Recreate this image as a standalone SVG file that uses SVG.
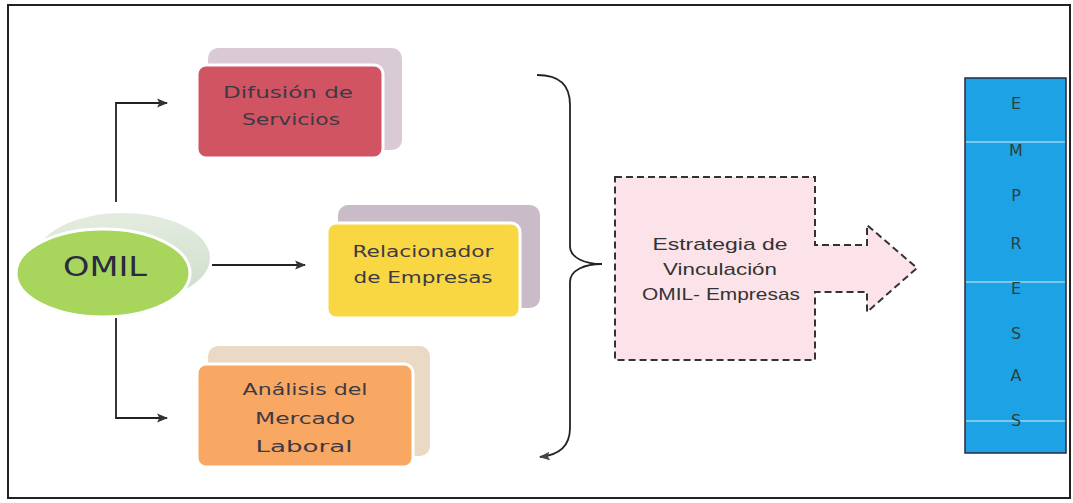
<svg xmlns="http://www.w3.org/2000/svg" width="1073" height="503" viewBox="0 0 1073 503">
  <defs>
    <style>
      .lbl { font-family: "DejaVu Sans", Verdana, sans-serif; font-size: 16px; fill: #3c3a46; text-anchor: middle; }
      .arial { font-family: "Liberation Sans", Arial, sans-serif; font-size: 17px; fill: #333333; text-anchor: middle; }
      .let { font-family: "DejaVu Sans", Verdana, sans-serif; font-size: 16px; fill: #2f3f3a; text-anchor: middle; }
      .conn { fill: none; stroke: #222222; stroke-width: 1.8; }
    </style>
    <marker id="ah" viewBox="0 0 10 10" refX="9" refY="5" markerWidth="11" markerHeight="11" orient="auto" markerUnits="userSpaceOnUse">
      <path d="M0,1 L10,5 L0,9 L2,5 Z" fill="#333"/>
    </marker>
    <marker id="ahL" viewBox="0 0 10 10" refX="9" refY="5" markerWidth="11" markerHeight="11" orient="auto" markerUnits="userSpaceOnUse">
      <path d="M0,1 L10,5 L0,9 L2,5 Z" fill="#444"/>
    </marker>
    <linearGradient id="shg" x1="0" y1="0" x2="0" y2="1">
      <stop offset="0" stop-color="#e4ece0"/>
      <stop offset="1" stop-color="#ccdcc8"/>
    </linearGradient>
  </defs>

  <rect x="8" y="5" width="1062" height="493" fill="#ffffff" stroke="#222" stroke-width="2"/>

  <g id="connectors">
    <path class="conn" d="M116,202 L116,103 L167,103" marker-end="url(#ah)"/>
    <path class="conn" d="M116,318 L116,418 L167,418" marker-end="url(#ah)"/>
    <path class="conn" d="M212,265 L305,265" marker-end="url(#ah)"/>
    <path class="conn" d="M537,75 C560,75 570,85 570,105 L570,246 C570,258 585,264 602,264 C585,264 570,270 570,282 L570,428 C570,446 560,455 540,457" marker-end="url(#ahL)"/>
  </g>

  <g id="omil">
    <ellipse cx="123" cy="258" rx="87" ry="45" fill="url(#shg)"/>
    <ellipse cx="103" cy="273" rx="87" ry="44" fill="#a8d65c" stroke="#ffffff" stroke-width="3"/>
    <text x="105" y="276" font-family="DejaVu Sans, Verdana, sans-serif" font-size="27" fill="#2a2a40" text-anchor="middle" textLength="84" lengthAdjust="spacingAndGlyphs">OMIL</text>
  </g>

  <g id="difusion">
    <rect x="208" y="48" width="194" height="102" rx="10" fill="#d9cad6"/>
    <rect x="197" y="65" width="186" height="93" rx="9" fill="#d05462" stroke="#ffffff" stroke-width="3"/>
    <text class="lbl" x="288" y="98" textLength="130" lengthAdjust="spacingAndGlyphs">Difusión de</text>
    <text class="lbl" x="291" y="125" textLength="98" lengthAdjust="spacingAndGlyphs">Servicios</text>
  </g>

  <g id="relacionador">
    <rect x="338" y="205" width="202" height="103" rx="10" fill="#cabbc8"/>
    <rect x="327" y="223" width="193" height="95" rx="9" fill="#f8d742" stroke="#ffffff" stroke-width="3"/>
    <text class="lbl" x="423" y="257" textLength="141" lengthAdjust="spacingAndGlyphs">Relacionador</text>
    <text class="lbl" x="423" y="283" textLength="139" lengthAdjust="spacingAndGlyphs">de Empresas</text>
  </g>

  <g id="analisis">
    <rect x="208" y="346" width="222" height="110" rx="10" fill="#ead9c4"/>
    <rect x="197" y="364" width="216" height="103" rx="9" fill="#f8a862" stroke="#ffffff" stroke-width="3"/>
    <text class="lbl" x="305" y="395" textLength="125" lengthAdjust="spacingAndGlyphs">Análisis del</text>
    <text class="lbl" x="305" y="424" textLength="100" lengthAdjust="spacingAndGlyphs">Mercado</text>
    <text class="lbl" x="304" y="452" textLength="97" lengthAdjust="spacingAndGlyphs">Laboral</text>
  </g>

  <g id="estrategia">
    <path d="M615,177 L815,177 L815,245 L867,245 L867,225 L917,268 L867,312 L867,292 L815,292 L815,360 L615,360 Z" fill="#fce3ea" stroke="#333" stroke-width="2" stroke-dasharray="7,4"/>
    <text class="arial" x="720" y="250" textLength="135" lengthAdjust="spacingAndGlyphs">Estrategia de</text>
    <text class="arial" x="720" y="275" textLength="114" lengthAdjust="spacingAndGlyphs">Vinculación</text>
    <text class="arial" x="721" y="300" textLength="158" lengthAdjust="spacingAndGlyphs">OMIL- Empresas</text>
  </g>

  <g id="empresas">
    <rect x="965" y="78" width="101" height="375" fill="#1ea2e6" stroke="#2a2a40" stroke-width="1.5"/>
    <line x1="966" y1="142" x2="1065" y2="142" stroke="#d8ecf6" stroke-width="1.2"/>
    <line x1="966" y1="282" x2="1065" y2="282" stroke="#d8ecf6" stroke-width="1.2"/>
    <line x1="966" y1="421" x2="1065" y2="421" stroke="#d8ecf6" stroke-width="1.2"/>
    <text class="let" x="1016" y="109">E</text>
    <text class="let" x="1016" y="156">M</text>
    <text class="let" x="1016" y="201">P</text>
    <text class="let" x="1016" y="249">R</text>
    <text class="let" x="1016" y="294">E</text>
    <text class="let" x="1016" y="339">S</text>
    <text class="let" x="1016" y="381">A</text>
    <text class="let" x="1016" y="426">S</text>
  </g>
</svg>
